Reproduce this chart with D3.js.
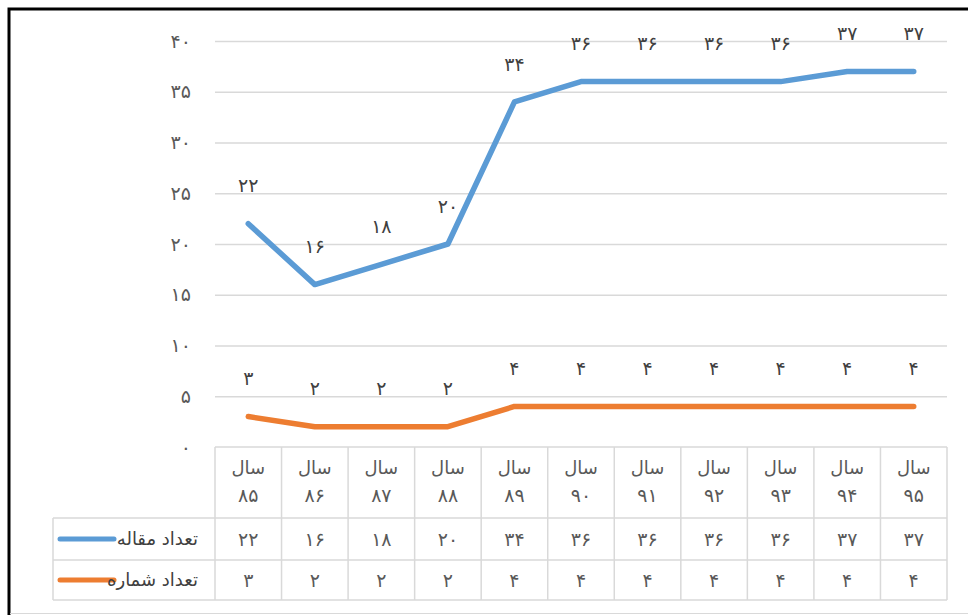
<!DOCTYPE html>
<html>
<head>
<meta charset="utf-8">
<script src="https://cdn.jsdelivr.net/npm/d3@7"></script>
<style>
  body { margin: 0; background: #fff; }
  svg { display: block; font-family: "DejaVu Sans", sans-serif; }
</style>
</head>
<body>
<div id="chart"></div>
<script>
const years = ["۸۵", "۸۶", "۸۷", "۸۸", "۸۹", "۹۰", "۹۱", "۹۲", "۹۳", "۹۴", "۹۵"];
const articles = [22, 16, 18, 20, 34, 36, 36, 36, 36, 37, 37];
const issues = [3, 2, 2, 2, 4, 4, 4, 4, 4, 4, 4];
const yTicks = [0, 5, 10, 15, 20, 25, 30, 35, 40];

const seriesNames = ["تعداد مقاله", "تعداد شماره"];
const seriesColors = ["#5b9bd5", "#ed7d31"];

const fa = n => String(n).replace(/\d/g, c => "۰۱۲۳۴۵۶۷۸۹"[+c]);

const width = 968, height = 615;
const plot = { left: 215, right: 947, top: 41, bottom: 447 };
const textColor = "#595959";
const gridColor = "#d9d9d9";
const numSize = 19, wordSize = 18;

const svg = d3.select("#chart").append("svg")
  .attr("width", width)
  .attr("height", height);

const x = d3.scaleBand()
  .domain(years)
  .range([plot.left, plot.right])
  .paddingInner(0)
  .paddingOuter(0);
const cx = d => x(d) + x.bandwidth() / 2;

const y = d3.scaleLinear()
  .domain([0, 40])
  .range([plot.bottom, plot.top]);

// gridlines + y labels
const yAxis = svg.append("g")
  .attr("transform", `translate(${plot.left},0)`)
  .call(d3.axisLeft(y)
    .tickValues(yTicks)
    .tickSize(-(plot.right - plot.left))
    .tickPadding(24)
    .tickFormat(fa));
yAxis.select(".domain").remove();
yAxis.selectAll(".tick line")
  .attr("stroke", gridColor)
  .attr("stroke-width", 1.5)
  .attr("display", d => d === 0 ? "none" : null);
yAxis.selectAll(".tick text")
  .attr("fill", textColor)
  .attr("font-size", numSize)
  .attr("font-family", "DejaVu Sans");

// data table
const headerBottom = 518, row1Bottom = 560, row2Bottom = 600, tableLeft = 53;
const table = svg.append("g")
  .attr("fill", "none")
  .attr("stroke", gridColor)
  .attr("stroke-width", 1.5);

table.append("line")
  .attr("x1", plot.left).attr("x2", plot.right)
  .attr("y1", plot.bottom).attr("y2", plot.bottom);
[headerBottom, row1Bottom, row2Bottom].forEach(yy => {
  table.append("line")
    .attr("x1", tableLeft).attr("x2", plot.right)
    .attr("y1", yy).attr("y2", yy);
});
table.append("line")
  .attr("x1", tableLeft).attr("x2", tableLeft)
  .attr("y1", headerBottom).attr("y2", row2Bottom);
table.selectAll(".vline")
  .data(years)
  .enter()
  .append("line")
  .attr("x1", d => x(d)).attr("x2", d => x(d))
  .attr("y1", plot.bottom).attr("y2", row2Bottom);
table.append("line")
  .attr("x1", plot.right).attr("x2", plot.right)
  .attr("y1", plot.bottom).attr("y2", row2Bottom);

// header cells
const header = svg.append("g")
  .attr("fill", textColor)
  .attr("text-anchor", "middle");
header.selectAll(".h1")
  .data(years)
  .enter()
  .append("text")
  .attr("x", cx)
  .attr("y", 474)
  .attr("font-size", wordSize)
  .text("سال");
header.selectAll(".h2")
  .data(years)
  .enter()
  .append("text")
  .attr("x", cx)
  .attr("y", 502)
  .attr("font-size", numSize)
  .text(d => d);

// value rows
const rows = [articles, issues];
const rowMid = [539, 580];
rows.forEach((vals, i) => {
  svg.append("g")
    .attr("fill", textColor)
    .attr("font-size", numSize)
    .attr("text-anchor", "middle")
    .selectAll("text")
    .data(vals)
    .enter()
    .append("text")
    .attr("x", (d, j) => cx(years[j]))
    .attr("y", rowMid[i])
    .attr("dy", "0.35em")
    .text(fa);

  svg.append("line")
    .attr("x1", 60).attr("x2", 114)
    .attr("y1", rowMid[i]).attr("y2", rowMid[i])
    .attr("stroke", seriesColors[i])
    .attr("stroke-width", 5)
    .attr("stroke-linecap", "round");

  svg.append("text")
    .attr("x", 198)
    .attr("y", rowMid[i])
    .attr("dy", "0.35em")
    .attr("text-anchor", "end")
    .attr("fill", "#404040")
    .attr("font-size", wordSize)
    .text(seriesNames[i]);
});

// lines
const line = d3.line()
  .x((d, j) => cx(years[j]))
  .y(d => y(d));

rows.forEach((vals, i) => {
  svg.append("path")
    .datum(vals)
    .attr("fill", "none")
    .attr("stroke", seriesColors[i])
    .attr("stroke-width", 5.5)
    .attr("stroke-linejoin", "round")
    .attr("stroke-linecap", "round")
    .attr("d", line);

  svg.append("g")
    .attr("fill", "#404040")
    .attr("font-size", numSize)
    .attr("text-anchor", "middle")
    .selectAll("text")
    .data(vals)
    .enter()
    .append("text")
    .attr("x", (d, j) => cx(years[j]))
    .attr("y", d => y(d) - 38)
    .attr("dy", "0.35em")
    .text(fa);
});

// frame
svg.append("path")
  .attr("d", `M9,${height} V9 H${width}`)
  .attr("fill", "none")
  .attr("stroke", "#000")
  .attr("stroke-width", 3);
svg.append("line")
  .attr("x1", 10).attr("x2", width)
  .attr("y1", 613.5).attr("y2", 613.5)
  .attr("stroke", "#d9d9d9")
  .attr("stroke-width", 1);
</script>
</body>
</html>
